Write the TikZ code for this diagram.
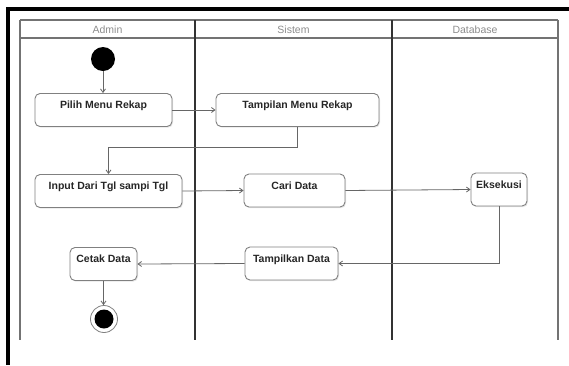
\documentclass[tikz,border=0pt]{standalone}
\usepackage{fontspec}
\setmainfont{Liberation Sans}
\usetikzlibrary{arrows.meta,shadows,calc}
\begin{document}
\begin{tikzpicture}[x=1pt,y=-1pt,
  laneouter/.style={draw=black!55, line width=1.4pt},
  lanediv/.style={draw=black!80, line width=1.5pt},
  lanehead/.style={font=\fontsize{10.5}{12}\selectfont, text=black!45, inner sep=0pt},
  act/.style={draw=black!50, line width=0.9pt, rounded corners=5pt, fill=white,
     drop shadow={shadow xshift=1pt, shadow yshift=-1.2pt, opacity=0.2},
     inner xsep=0pt, inner ysep=0pt, text height=15pt, text depth=18pt,
     font=\bfseries\fontsize{10.5}{12}\selectfont, text=black!85},
  flow/.style={draw=black!60, line width=0.8pt, -{Straight Barb[length=3.5pt,width=5pt]}},
  ]
\useasboundingbox (0,0) rectangle (569,365);

% black frame along the top and the left edge
\fill[black] (6,6.5) rectangle (569,10.5);
\fill[black] (6,6.5) rectangle (10,365);

% swimlanes
\draw[laneouter] (20,20) -- (558,20);
\draw[laneouter] (20,38) -- (558,38);
\draw[laneouter] (20,20) -- (20,340);
\draw[laneouter] (558,20) -- (558,340);
\draw[lanediv] (195,20) -- (195,340);
\draw[lanediv] (392,20) -- (392,340);

\node[lanehead] (hadmin) at (107.5,29.5) {Admin};
\node[lanehead] (hsistem) at (293.5,29.5) {Sistem};
\node[lanehead] (hdb) at (475,29.5) {Database};

% initial and final states
\node[circle, fill=black, minimum size=24pt, inner sep=0pt] (start) at (103,59) {};
\node[circle, draw=black!50, line width=0.8pt, fill=white, minimum size=27pt, inner sep=0pt] (end) at (104,319) {};
\node[circle, fill=black, minimum size=19pt, inner sep=0pt] (endcore) at (end) {};

% activities
\node[act, minimum width=137pt] (pilih) at (103.5,110) {Pilih Menu Rekap};
\node[act, minimum width=163pt] (tampilan) at (297.5,110) {Tampilan Menu Rekap};
\node[act, minimum width=147pt] (input) at (108.5,191) {Input Dari Tgl sampi Tgl};
\node[act, minimum width=101pt] (cari) at (294.5,190.5) {Cari Data};
\node[act, minimum width=56pt] (eks) at (499,189.5) {Eksekusi};
\node[act, minimum width=93pt] (tampilkan) at (291.5,263.5) {Tampilkan Data};
\node[act, minimum width=67pt] (cetak) at (103.5,264) {Cetak Data};

% control flow
\draw[flow] (start.south) -- (start.south |- pilih.north);
\draw[flow] (pilih.east) -- (tampilan.west);
\draw[flow] (tampilan.south) -- ++(0,20) -| (input.north);
\draw[flow] (input.east) -- (cari.west);
\draw[flow] (cari.east) -- (eks.west);
\draw[flow] (eks.south) |- (tampilkan.east);
\draw[flow] (tampilkan.west) -- (cetak.east);
\draw[flow] (cetak.south) -- (cetak.south |- end.north);
\end{tikzpicture}
\end{document}
